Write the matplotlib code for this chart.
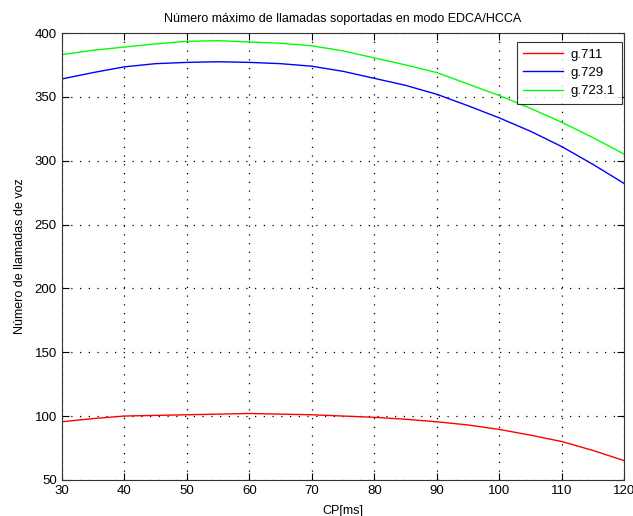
import matplotlib
matplotlib.use("Agg")
import matplotlib.pyplot as plt

cp = [30, 35, 40, 45, 50, 55, 60, 65, 70, 75, 80, 85, 90, 95, 100, 105, 110, 115, 120]
g711 = [95.5, 98, 100, 100.5, 101, 101.5, 102, 101.5, 101, 100, 99, 97.5, 95.5, 93, 89.5, 85, 80, 73, 65]
g729 = [364, 369, 373.5, 376, 377, 377.5, 377, 376, 374, 370, 364.5, 359, 352, 343, 333.5, 323, 311, 297, 282]
g7231 = [383, 386.5, 389, 391.5, 393.5, 394, 393, 392, 390, 386, 380.5, 375, 369, 360, 351, 341, 330, 318, 305]

xticks = [30, 40, 50, 60, 70, 80, 90, 100, 110, 120]
yticks = [50, 100, 150, 200, 250, 300, 350, 400]

plt.rcParams['font.family'] = ['Liberation Sans', 'DejaVu Sans']

fig = plt.figure(figsize=(6.33, 5.16), dpi=100)
ax = fig.add_axes([0.0975, 0.070, 0.889, 0.866])

ax.plot(cp, g711, color=(1, 0, 0), lw=1.0, label='g.711')
ax.plot(cp, g729, color=(0, 0, 1), lw=1.0, label='g.729')
ax.plot(cp, g7231, color=(0, 1, 0), lw=1.0, label='g.723.1')

ax.set_xlim(30, 120)
ax.set_ylim(50, 400)
ax.set_xticks(xticks)
ax.set_yticks(yticks)
ax.grid(True, color='black', linestyle=(0, (1, 6)), linewidth=0.9)
ax.tick_params(direction='in', length=5, labelsize=9.5, top=True, right=True, colors='black')
for s in ax.spines.values():
    s.set_linewidth(0.8)
    s.set_color('#333333')

ax.set_title('Número máximo de llamadas soportadas en modo EDCA/HCCA', fontsize=9, pad=8)
ax.set_xlabel('CP[ms]', fontsize=9, labelpad=6)
ax.set_ylabel('Número de llamadas de voz', fontsize=9, labelpad=6)

leg = ax.legend(loc='upper right', bbox_to_anchor=(0.995, 0.98), fontsize=9.5,
                frameon=True, fancybox=False, edgecolor='black', borderaxespad=0,
                handlelength=3.0, labelspacing=0.45, borderpad=0.5, handletextpad=0.6)
leg.get_frame().set_linewidth(0.8)

fig.savefig('out.png', dpi=100)
